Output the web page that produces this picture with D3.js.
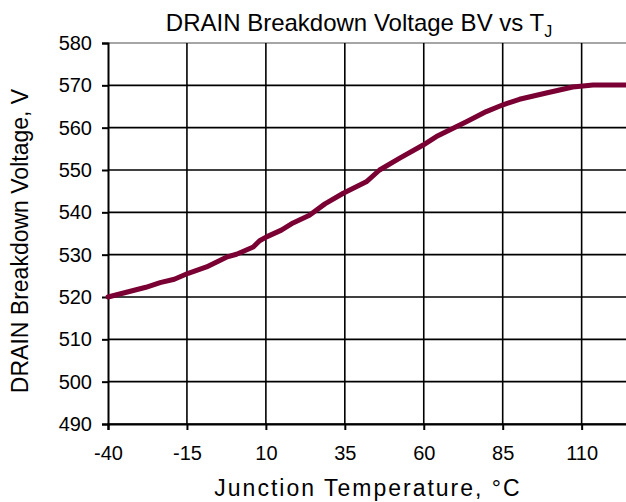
<html>
<head>
<script src="https://d3js.org/d3.v7.min.js"></script>
<style>
  body { margin: 0; background: #fff; }
  svg { display: block; font-family: "Liberation Sans", Arial, sans-serif; }
  .grid line { stroke: #000; stroke-width: 1.6px; }
  .tick text { font-size: 20px; fill: #000; }
</style>
</head>
<body>
<svg id="chart" width="626" height="502"></svg>
<script>
// junction temperature (°C) and breakdown voltage (V)
const temps = [-40, -28, -23.5, -19, -14.6, -8.8, -2.5, 0.7, 6, 8, 10.2, 14.9, 18.6, 23.8, 28.7, 34.5, 41.8, 46, 52.4, 59.8, 64, 73.5, 79.8, 85.1, 90.3, 98.8, 107.2, 113.6, 125];
const volts = [520, 522.3, 523.4, 524.2, 525.6, 527.1, 529.4, 530.1, 531.8, 533.3, 534.2, 535.8, 537.5, 539.3, 542.0, 544.5, 547.2, 550.0, 552.8, 555.9, 557.9, 561.4, 563.8, 565.4, 566.7, 568.2, 569.6, 570.1, 570.1];
const xTicks = [-40, -15, 10, 35, 60, 85, 110];
const yTicks = [490, 500, 510, 520, 530, 540, 550, 560, 570, 580];

const svg = d3.select("#chart");
const mLeft = 108, mRight = 629, mTop = 43, mBottom = 424;

const x = d3.scaleLinear().domain([-40, 125]).range([mLeft, mRight]);
const y = d3.scaleLinear().domain([490, 580]).range([mBottom, mTop]);

// grid
const grid = svg.append("g").attr("class", "grid");
grid.selectAll(".h").data(yTicks).join("line")
    .attr("x1", mLeft).attr("x2", mRight)
    .attr("y1", d => y(d)).attr("y2", d => y(d))
    .style("stroke", d => d == 580 ? "#888" : "#000");
grid.selectAll(".v").data(xTicks.slice(1)).join("line")
    .attr("x1", d => x(d)).attr("x2", d => x(d))
    .attr("y1", mTop).attr("y2", mBottom);

// axes
const yAxis = svg.append("g")
    .attr("transform", `translate(${mLeft},0)`)
    .call(d3.axisLeft(y).tickValues(yTicks).tickSize(6).tickPadding(10).tickFormat(d => String(d)));
const xAxis = svg.append("g")
    .attr("transform", `translate(0,${mBottom})`)
    .call(d3.axisBottom(x).tickValues(xTicks).tickSize(6).tickPadding(16).tickFormat(d => String(d)));
[xAxis, yAxis].forEach(a => {
  a.select(".domain").attr("stroke", "#000").attr("stroke-width", 2);
  a.selectAll(".tick line").attr("stroke", "#000").attr("stroke-width", 2);
});

// curve
const pts = temps.map((t, i) => [t, volts[i]]);
svg.append("path")
    .datum(pts)
    .attr("fill", "none")
    .attr("stroke", "#7a0034")
    .attr("stroke-width", 5)
    .attr("stroke-linejoin", "round")
    .attr("stroke-linecap", "round")
    .attr("d", d3.line().x(d => x(d[0])).y(d => y(d[1])));

// titles
const title = svg.append("text")
    .attr("x", 359).attr("y", 31)
    .attr("text-anchor", "middle")
    .style("font-size", "24px")
    .text("DRAIN Breakdown Voltage BV vs T");
title.append("tspan")
    .attr("dy", 6)
    .style("font-size", "16px")
    .text("J");

svg.append("text")
    .attr("x", 368).attr("y", 496)
    .attr("text-anchor", "middle")
    .style("font-size", "23px")
    .style("letter-spacing", "2px")
    .text("Junction Temperature, °C");

svg.append("text")
    .attr("transform", "translate(28,241) rotate(-90)")
    .attr("text-anchor", "middle")
    .style("font-size", "23px")
    .text("DRAIN Breakdown Voltage, V");
</script>
</body>
</html>
